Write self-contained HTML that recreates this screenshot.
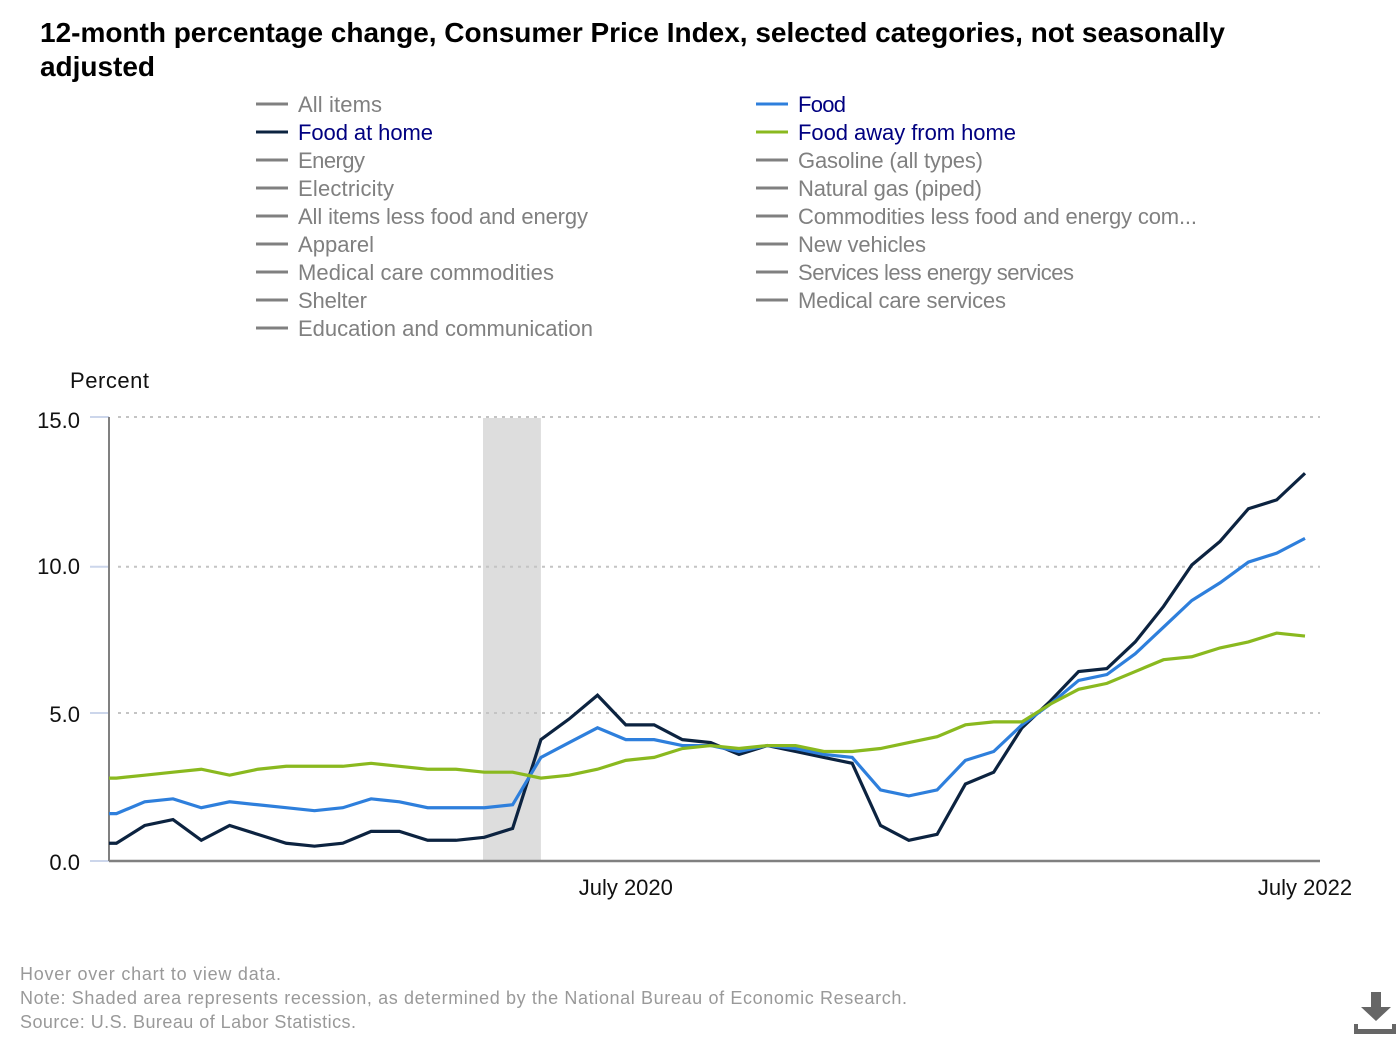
<!DOCTYPE html>
<html lang="en">
<head>
<meta charset="utf-8">
<title>12-month percentage change, Consumer Price Index</title>
<style>
html,body{margin:0;padding:0;background:#fff;}
svg{display:block;}
text{font-family:"Liberation Sans",sans-serif;}
.title{font-size:28px;font-weight:700;fill:#000;}
.lg{font-size:22px;fill:#808080;}
.lg.on{fill:#000080;}
.ax{font-size:22px;fill:#111;}
.ft{font-size:18px;fill:#999;}
</style>
</head>
<body>
<svg id="chart" xmlns="http://www.w3.org/2000/svg" width="1400" height="1040" viewBox="0 0 1400 1040">
  <text class="title" x="40" y="42" textLength="1185">12-month percentage change, Consumer Price Index, selected categories, not seasonally</text>
  <text class="title" x="40" y="76" textLength="115">adjusted</text>

  <g stroke-width="3">
    <line x1="256" x2="288" y1="104" y2="104" stroke="#808080"/>
    <text class="lg" x="298" y="112" textLength="84">All items</text>
    <line x1="256" x2="288" y1="132" y2="132" stroke="#0c2340"/>
    <text class="lg on" x="298" y="140" textLength="135">Food at home</text>
    <line x1="256" x2="288" y1="160" y2="160" stroke="#808080"/>
    <text class="lg" x="298" y="168" textLength="67">Energy</text>
    <line x1="256" x2="288" y1="188" y2="188" stroke="#808080"/>
    <text class="lg" x="298" y="196" textLength="96">Electricity</text>
    <line x1="256" x2="288" y1="216" y2="216" stroke="#808080"/>
    <text class="lg" x="298" y="224" textLength="290">All items less food and energy</text>
    <line x1="256" x2="288" y1="244" y2="244" stroke="#808080"/>
    <text class="lg" x="298" y="252" textLength="76">Apparel</text>
    <line x1="256" x2="288" y1="272" y2="272" stroke="#808080"/>
    <text class="lg" x="298" y="280" textLength="256">Medical care commodities</text>
    <line x1="256" x2="288" y1="300" y2="300" stroke="#808080"/>
    <text class="lg" x="298" y="308" textLength="69">Shelter</text>
    <line x1="256" x2="288" y1="328" y2="328" stroke="#808080"/>
    <text class="lg" x="298" y="336" textLength="295">Education and communication</text>

    <line x1="756" x2="788" y1="104" y2="104" stroke="#2e7fdc"/>
    <text class="lg on" x="798" y="112" textLength="48">Food</text>
    <line x1="756" x2="788" y1="132" y2="132" stroke="#8ab91f"/>
    <text class="lg on" x="798" y="140" textLength="218">Food away from home</text>
    <line x1="756" x2="788" y1="160" y2="160" stroke="#808080"/>
    <text class="lg" x="798" y="168" textLength="185">Gasoline (all types)</text>
    <line x1="756" x2="788" y1="188" y2="188" stroke="#808080"/>
    <text class="lg" x="798" y="196" textLength="184">Natural gas (piped)</text>
    <line x1="756" x2="788" y1="216" y2="216" stroke="#808080"/>
    <text class="lg" x="798" y="224" textLength="399">Commodities less food and energy com...</text>
    <line x1="756" x2="788" y1="244" y2="244" stroke="#808080"/>
    <text class="lg" x="798" y="252" textLength="128">New vehicles</text>
    <line x1="756" x2="788" y1="272" y2="272" stroke="#808080"/>
    <text class="lg" x="798" y="280" textLength="276">Services less energy services</text>
    <line x1="756" x2="788" y1="300" y2="300" stroke="#808080"/>
    <text class="lg" x="798" y="308" textLength="208">Medical care services</text>
  </g>

  <text class="ax" x="70" y="388" textLength="79">Percent</text>

  <g id="plot"></g>

  <text class="ft" x="20" y="980" textLength="261">Hover over chart to view data.</text>
  <text class="ft" x="20" y="1004" textLength="887">Note: Shaded area represents recession, as determined by the National Bureau of Economic Research.</text>
  <text class="ft" x="20" y="1028" textLength="336">Source: U.S. Bureau of Labor Statistics.</text>

  <g fill="#666">
    <path d="M1371 992H1381V1007H1391L1376 1021L1361 1007H1371Z"/>
    <path d="M1354 1024H1358V1029H1392V1024H1396V1034H1354Z"/>
  </g>
</svg>
<script>
// Months are counted from December 2018 (index 0), which sits just left of the clipped plot edge.
const months = ["Dec 2018","Jan 2019","Feb 2019","Mar 2019","Apr 2019","May 2019","Jun 2019","Jul 2019","Aug 2019","Sep 2019","Oct 2019","Nov 2019","Dec 2019","Jan 2020","Feb 2020","Mar 2020","Apr 2020","May 2020","Jun 2020","Jul 2020","Aug 2020","Sep 2020","Oct 2020","Nov 2020","Dec 2020","Jan 2021","Feb 2021","Mar 2021","Apr 2021","May 2021","Jun 2021","Jul 2021","Aug 2021","Sep 2021","Oct 2021","Nov 2021","Dec 2021","Jan 2022","Feb 2022","Mar 2022","Apr 2022","May 2022","Jun 2022","Jul 2022"];
const foodAtHome = [0.6,0.6,1.2,1.4,0.7,1.2,0.9,0.6,0.5,0.6,1.0,1.0,0.7,0.7,0.8,1.1,4.1,4.8,5.6,4.6,4.6,4.1,4.0,3.6,3.9,3.7,3.5,3.3,1.2,0.7,0.9,2.6,3.0,4.5,5.4,6.4,6.5,7.4,8.6,10.0,10.8,11.9,12.2,13.1];
const food = [1.6,1.6,2.0,2.1,1.8,2.0,1.9,1.8,1.7,1.8,2.1,2.0,1.8,1.8,1.8,1.9,3.5,4.0,4.5,4.1,4.1,3.9,3.9,3.7,3.9,3.8,3.6,3.5,2.4,2.2,2.4,3.4,3.7,4.6,5.3,6.1,6.3,7.0,7.9,8.8,9.4,10.1,10.4,10.9];
const foodAwayFromHome = [2.8,2.8,2.9,3.0,3.1,2.9,3.1,3.2,3.2,3.2,3.3,3.2,3.1,3.1,3.0,3.0,2.8,2.9,3.1,3.4,3.5,3.8,3.9,3.8,3.9,3.9,3.7,3.7,3.8,4.0,4.2,4.6,4.7,4.7,5.3,5.8,6.0,6.4,6.8,6.9,7.2,7.4,7.7,7.6];
const yTicks = [0,5,10,15];
const yTickLabels = ["0.0","5.0","10.0","15.0"];
const xTickMonths = ["Jul 2020","Jul 2022"];
const xTickLabels = ["July 2020","July 2022"];
const recessionMonths = ["Feb 2020","Apr 2020"];

const NS = "http://www.w3.org/2000/svg";
const plot = document.getElementById("plot");
const left = 109, right = 1320, top_ = 417, bottom = 861;
const lastX = 1305, step = 28.3;

function xScale(i) { return lastX - (months.length - 1 - i) * step; }
function xOf(label) { return xScale(months.indexOf(label)); }
function yScale(v) { return bottom - v * (bottom - top_) / 15; }
// The reference's tick and grid marks snap slightly below the value scale at 10.
function gridY(v) { return yScale(v) + (v === 10 ? 1.7 : 0); }

function add(tag, attrs, parent) {
  const el = document.createElementNS(NS, tag);
  for (const k in attrs) el.setAttribute(k, attrs[k]);
  (parent || plot).appendChild(el);
  return el;
}

const defs = add("defs", {});
const clip = add("clipPath", { id: "plot-clip" }, defs);
add("rect", { x: left, y: top_ - 10, width: right - left, height: bottom - top_ + 20 }, clip);

const rec = add("rect", {
  x: xOf(recessionMonths[0]) - 1.3,
  y: top_ + 1,
  width: xOf(recessionMonths[1]) - xOf(recessionMonths[0]) + 1.3,
  height: bottom - top_ - 1,
  fill: "#dddddd"
});



yTicks.forEach(function (v, i) {
  const y = gridY(v);
  if (v !== 0) {
    const g = add("line", { x1: left + 9, x2: right, y1: y, y2: y, stroke: "#c4c4c4", "stroke-width": 2, "stroke-dasharray": "3 5" });
    
    
  }
  const t = add("line", { x1: 90, x2: left, y1: y, y2: y, stroke: "#ccd6eb", "stroke-width": 2 });
  
  
  const label = add("text", { x: 80, y: yScale(v) + (v === 15 ? 11 : 9), "text-anchor": "end", class: "ax" });
  
  
  label.textContent = yTickLabels[i];
});

const yAxis = add("line", { x1: left, x2: left, y1: top_, y2: bottom, stroke: "#808080", "stroke-width": 2 });


const xAxis = add("line", { x1: left, x2: right, y1: bottom, y2: bottom, stroke: "#808080", "stroke-width": 2.5 });



xTickMonths.forEach(function (m, i) {
  const label = add("text", { x: xOf(m), y: 895, "text-anchor": "middle", class: "ax" });
  
  
  label.textContent = xTickLabels[i];
});

function drawLine(values, color) {
  const d = values.map(function (v, i) {
    return (i ? "L" : "M") + xScale(i).toFixed(2) + " " + yScale(v).toFixed(2);
  }).join("");
  return add("path", { d: d, fill: "none", stroke: color, "stroke-width": 3.2, "stroke-linejoin": "miter", "clip-path": "url(#plot-clip)" });
}

const lineFoodAway = drawLine(foodAwayFromHome, "#8ab91f");


const lineFoodAtHome = drawLine(foodAtHome, "#0c2340");


const lineFood = drawLine(food, "#2e7fdc");


plot.appendChild(lineFoodAway);
</script>
</body>
</html>
